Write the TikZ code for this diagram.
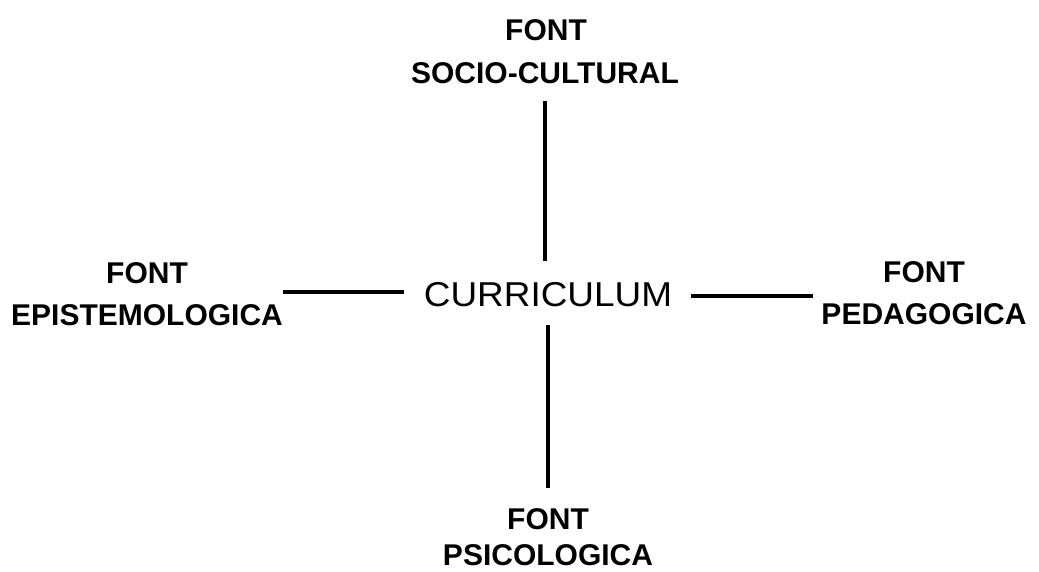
\documentclass[tikz,border=0pt]{standalone}
\usepackage{fontspec}
\setmainfont{Liberation Sans}
\begin{document}
\begin{tikzpicture}[x=1pt,y=-1pt,
  lab/.style={inner sep=0pt,font=\bfseries\fontsize{30}{36}\selectfont,text height=21.5pt,text depth=0pt},
  main/.style={inner sep=0pt,font=\fontsize{34.5}{40}\selectfont,text height=24.7pt,text depth=0pt},
  conn/.style={line width=4.8pt}]
\path[use as bounding box] (0,0) rectangle (1039,571);
\node[main] (cur) at (548,294) {\scalebox{1.07}[1]{CURRICULUM}};
\node[lab] (sfont) at (546,30) {FONT};
\node[lab] (soc) at (545,73) {SOCIO-CULTURAL};
\node[lab] (efont) at (147,273) {FONT};
\node[lab] (epi) at (147,315) {EPISTEMOLOGICA};
\node[lab] (dfont) at (924,272) {FONT};
\node[lab] (ped) at (924,314) {PEDAGOGICA};
\node[lab] (pfont) at (548,519) {FONT};
\node[lab] (psi) at (548,555) {PSICOLOGICA};
\draw[conn,shorten <=17pt,shorten >=20pt] (soc.south) -- (soc.south |- cur.north);
\draw[conn,shorten <=20pt,shorten >=18pt] (pfont.north) -- (pfont.north |- cur.south);
\draw[conn,shorten <=19.5pt] ([yshift=2pt]cur.west) -- ([yshift=2pt]cur.west -| epi.east);
\draw[conn,shorten <=18.5pt,shorten >=8.5pt] ([yshift=-2pt]cur.east) -- ([yshift=-2pt]cur.east -| ped.west);
\end{tikzpicture}
\end{document}
